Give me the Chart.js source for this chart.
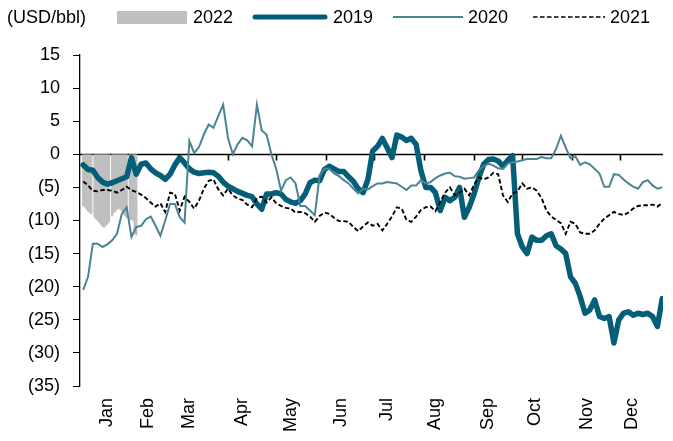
<!DOCTYPE html>
<html>
<head>
<meta charset="utf-8">
<script src="https://cdn.jsdelivr.net/npm/chart.js@4.4.1/dist/chart.umd.min.js"></script>
<style>
  html, body { margin: 0; padding: 0; background: #fff; }
  #wrap { position: relative; width: 673px; height: 441px; font-family: "Liberation Sans", Arial, sans-serif; }
  #chart { position: absolute; left: 0; top: 0; }
  .lg { position: absolute; top: 7px; font-size: 18px; line-height: 20px; color: #000; white-space: nowrap; }
  .sw { position: absolute; }
</style>
</head>
<body>
<div id="wrap">
  <canvas id="chart" width="673" height="441"></canvas>
  <div class="lg" style="left:7px">(USD/bbl)</div>
  <div class="sw" style="left:117px; top:11px; width:70px; height:13px; background:#bfbfbf"></div>
  <div class="lg" style="left:193px">2022</div>
  <svg class="sw" style="left:250px; top:9px" width="80" height="16"><line x1="5" y1="8" x2="75" y2="8" stroke="#045e78" stroke-width="5" stroke-linecap="round"/></svg>
  <div class="lg" style="left:333px">2019</div>
  <svg class="sw" style="left:391px; top:9px" width="74" height="16"><line x1="2" y1="8" x2="72" y2="8" stroke="#4a8394" stroke-width="1.8"/></svg>
  <div class="lg" style="left:468px">2020</div>
  <svg class="sw" style="left:531px; top:9px" width="76" height="16"><line x1="2" y1="8" x2="74" y2="8" stroke="#000" stroke-width="1.6" stroke-dasharray="4.5,2.5"/></svg>
  <div class="lg" style="left:610px">2021</div>
</div>
<script>
// x positions (day of year) of the sampled points, every 3 days
const days = Array.from({ length: 121 }, (_, i) => i * 3);

// 2022 daily values from Jan 1 (null = missing day)
const days2022 = Array.from({ length: 34 }, (_, i) => i);
const vals2022 = [-7.8, -8.0, -8.3, -8.6, -8.8, -9.0, null, -9.5, -9.8, -10.0, -10.3, -10.6, -10.9, -11.0, -10.8, -10.5, -10.2, null, -9.3, -8.8,
  -8.6, -8.3, -8.2, -8.3, -8.6, -9.0, -9.3, -9.6, null, -9.8, -9.9, -10.0, -12.0, -12.2];

const vals2019 = [-1.6, -2.3, -2.4, -3.5, -4.2, -4.5, -4.3, -4.0, -3.7, -3.4, -0.5, -3.0, -1.5, -1.3, -2.2, -2.8, -3.2, -3.8, -3.0, -1.6,
  -0.5, -1.3, -2.2, -2.7, -2.9, -2.8, -2.7, -2.8, -3.3, -4.2, -4.8, -5.2, -5.6, -5.9, -6.2, -6.4, -7.5, -8.3, -6.0, -6.0,
  -5.8, -6.0, -6.8, -7.2, -7.4, -7.0, -6.0, -4.3, -3.9, -4.0, -2.3, -1.8, -2.2, -2.6, -2.6, -3.4, -4.1, -5.2, -5.8, -3.8,
  0.5, 1.2, 2.4, 1.0, -0.5, 2.9, 2.6, 2.1, 2.4, 1.5, -2.5, -5.0, -5.0, -5.8, -8.5, -6.5, -7.0, -6.5, -5.0, -9.5,
  -8.0, -6.0, -3.5, -1.5, -0.8, -0.7, -1.0, -1.8, -0.9, -0.2, -12.0, -14.0, -15.0, -12.5, -13.0, -13.0, -12.3, -12.0, -13.8, -14.3,
  -15.0, -18.5, -19.5, -21.5, -24.0, -23.5, -22.0, -24.5, -24.8, -24.5, -28.5, -25.0, -24.0, -23.8, -24.3, -24.0, -24.2, -24.0, -24.5, -26.0,
  -21.8];

const vals2020 = [-20.5, -18.5, -13.5, -13.5, -14.0, -13.6, -13.0, -12.0, -9.0, -8.0, -12.5, -11.0, -10.8, -9.8, -9.4, -10.8, -12.3, -10.0, -7.5, -7.5,
  -9.5, -10.3, 2.0, 0.2, 1.1, 3.0, 4.5, 4.0, 5.8, 7.5, 2.5, 0.0, 1.5, 2.5, 2.1, 1.2, 7.5, 3.6, 3.0, 0.0,
  -2.2, -5.5, -3.9, -3.5, -4.4, -7.8, -7.8, -8.5, -9.2, -3.2, -2.2, -2.2, -2.9, -3.3, -3.9, -4.4, -5.2, -5.9, -5.2, -5.3,
  -4.8, -4.4, -4.4, -4.2, -4.3, -4.4, -4.9, -5.4, -4.7, -4.7, -3.9, -4.4, -4.2, -3.6, -3.2, -2.9, -2.8, -3.3, -3.4, -3.7,
  -3.6, -3.5, -2.4, -1.8, -1.4, -1.7, -2.1, -2.2, -1.4, -1.2, -1.1, -0.9, -0.7, -0.7, -0.7, -0.4, -0.6, -0.6, 0.8, 2.8,
  1.0, -0.6, -0.3, -1.6, -1.2, -1.5, -2.2, -2.9, -4.9, -4.9, -3.0, -3.1, -3.8, -4.4, -4.9, -5.2, -4.2, -3.9, -4.7, -5.2,
  -5.0];

const vals2021 = [-4.1, -4.7, -5.5, -5.6, -5.4, -5.4, -5.5, -5.8, -5.4, -4.9, -5.4, -5.7, -6.1, -6.6, -7.3, -7.9, -7.4, -8.7, -5.8, -6.0,
  -8.5, -6.4, -7.2, -8.2, -7.0, -5.2, -4.0, -3.8, -5.3, -6.2, -5.2, -6.2, -6.7, -6.9, -7.6, -8.0, -6.6, -6.4, -7.3, -6.5,
  -7.4, -7.8, -8.1, -8.2, -8.8, -8.7, -8.9, -9.4, -10.2, -9.3, -8.8, -9.0, -9.6, -10.1, -10.1, -10.2, -11.0, -11.6, -10.9, -10.3,
  -10.8, -10.5, -11.5, -10.5, -9.4, -8.0, -8.2, -9.9, -10.2, -9.4, -8.4, -8.0, -7.9, -8.6, -7.2, -5.8, -5.0, -6.2, -5.8, -5.2,
  -6.2, -4.6, -3.5, -3.8, -3.5, -2.8, -3.0, -6.2, -7.2, -5.9, -5.6, -4.4, -5.2, -5.0, -5.5, -6.6, -8.5, -9.4, -9.9, -10.4,
  -12.0, -10.2, -10.5, -11.8, -12.0, -12.0, -11.5, -10.5, -9.7, -9.2, -8.7, -9.0, -9.2, -8.8, -8.2, -7.8, -7.7, -7.7, -7.6, -7.9,
  -7.4];

// axis labels
const monthLabels = ['Jan', 'Feb', 'Mar', 'Apr', 'May', 'Jun', 'Jul', 'Aug', 'Sep', 'Oct', 'Nov', 'Dec'];
const monthLabelDays = [15, 40, 66, 99, 129, 160, 189, 219, 252, 281, 313, 341];
const monthStartDays = [31, 59, 90, 120, 151, 181, 212, 243, 273, 304, 334];

const pts = (xs, ys) => xs.map((x, i) => ({ x: x, y: ys[i] }));

// zero line and the small month ticks hanging from it
const zeroAxis = {
  id: 'zeroAxis',
  beforeDatasetsDraw(chart) {
    const { ctx, chartArea, scales } = chart;
    const y0 = Math.round(scales.y.getPixelForValue(0)) + 0.5;
    ctx.save();
    ctx.strokeStyle = '#000';
    ctx.lineWidth = 1.6;
    ctx.beginPath();
    ctx.moveTo(chartArea.left, y0);
    ctx.lineTo(chartArea.right, y0);
    monthStartDays.forEach(d => {
      const x = Math.round(scales.x.getPixelForValue(d)) + 0.5;
      ctx.moveTo(x, y0);
      ctx.lineTo(x, y0 + 6);
    });
    ctx.stroke();
    ctx.restore();
  }
};

const font = { family: '"Liberation Sans", Arial, sans-serif', size: 18 };

new Chart(document.getElementById('chart'), {
  type: 'line',
  data: {
    datasets: [
      {
        type: 'bar',
        label: '2022',
        data: pts(days2022, vals2022),
        backgroundColor: '#bfbfbf',
        borderWidth: 0,
        barPercentage: 1,
        categoryPercentage: 1,
        order: 4
      },
      {
        label: '2019',
        data: pts(days, vals2019),
        borderColor: '#045e78',
        borderWidth: 5.5,
        borderJoinStyle: 'round',
        borderCapStyle: 'round',
        pointRadius: 0,
        tension: 0,
        order: 3
      },
      {
        label: '2020',
        data: pts(days, vals2020),
        borderColor: '#4a8394',
        borderWidth: 2,
        pointRadius: 0,
        tension: 0,
        order: 2
      },
      {
        label: '2021',
        data: pts(days, vals2021),
        borderColor: '#000',
        borderWidth: 1.9,
        borderDash: [4.5, 2.5],
        pointRadius: 0,
        tension: 0,
        order: 1
      }
    ]
  },
  options: {
    responsive: false,
    animation: false,
    devicePixelRatio: 1,
    layout: { padding: { top: 55, right: 10, left: 0, bottom: 0 } },
    plugins: {
      legend: { display: false },
      tooltip: { enabled: false }
    },
    scales: {
      x: {
        type: 'linear',
        offset: false,
        min: -2,
        max: 360.5,
        grid: { display: false, drawTicks: false, offset: false },
        border: { display: false },
        afterBuildTicks: (scale) => {
          scale.ticks = monthLabelDays.map(v => ({ value: v }));
        },
        afterFit: (scale) => { scale.height = 55; },
        ticks: {
          autoSkip: false,
          minRotation: 90,
          maxRotation: 90,
          padding: 12,
          color: '#000',
          font: font,
          callback: (v, i) => monthLabels[i]
        }
      },
      y: {
        min: -35,
        max: 15,
        grid: { drawOnChartArea: false, drawTicks: true, tickLength: 7, color: '#000' },
        border: { display: true, color: '#000', width: 1.3 },
        afterFit: (scale) => { scale.width = 80; },
        ticks: {
          stepSize: 5,
          padding: 13,
          color: '#000',
          font: font,
          callback: (v) => v < 0 ? '(' + (-v) + ')' : String(v)
        }
      }
    }
  },
  plugins: [zeroAxis]
});
</script>
</body>
</html>
